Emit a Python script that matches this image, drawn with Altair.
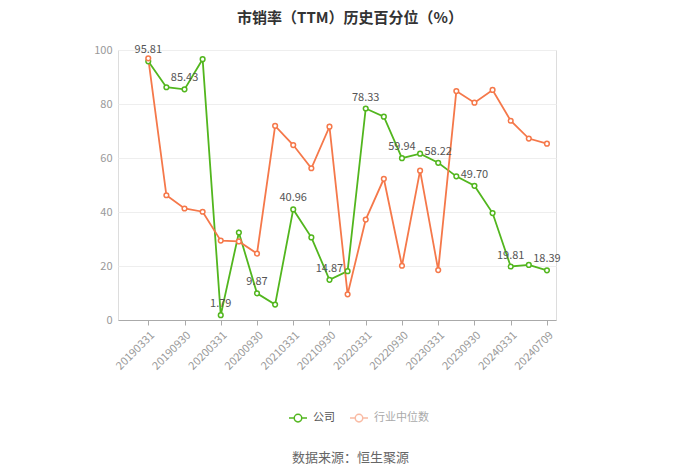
import altair as alt
import pandas as pd

dates = ["20190331", "20190630", "20190930", "20191231", "20200331", "20200630",
         "20200930", "20201231", "20210331", "20210630", "20210930", "20211231",
         "20220331", "20220630", "20220930", "20221231", "20230331", "20230630",
         "20230930", "20231231", "20240331", "20240630", "20240709"]
company = [95.81, 86.2, 85.43, 96.6, 1.79, 32.4, 9.87, 5.7, 40.96, 30.6, 14.87, 18.1,
           78.33, 75.3, 59.94, 61.6, 58.22, 53.2, 49.70, 39.6, 19.81, 20.4, 18.39]
industry = [96.9, 46.2, 41.3, 40.1, 29.4, 29.1, 24.6, 71.9, 64.8, 56.2, 71.6, 9.5,
            37.2, 52.3, 20.1, 55.3, 18.5, 84.8, 80.5, 85.2, 73.8, 67.2, 65.3]
labelled = [0, 2, 4, 6, 8, 10, 12, 14, 16, 18, 20, 22]
tick_positions = [0, 2, 4, 6, 8, 10, 12, 14, 16, 18, 20, 22]
y_ticks = [0, 20, 40, 60, 80, 100]
series_names = ["公司", "行业中位数"]
colors = ["#52b61e", "#f5784a"]

rows = []
for i, d in enumerate(dates):
    rows.append({"idx": i, "date": d, "series": series_names[0], "value": company[i],
                 "label": f"{company[i]:.2f}" if i in labelled else ""})
    rows.append({"idx": i, "date": d, "series": series_names[1], "value": industry[i],
                 "label": ""})
df = pd.DataFrame(rows)

FONT = "Noto Sans CJK SC"
label_array = "[" + ",".join(f"'{d}'" for d in dates) + "]"

color_scale = alt.Scale(domain=series_names, range=colors)
legend_symbol = ("M-1,0L-0.42,0M0.42,0L1,0"
                 "M-0.42,0A0.42,0.42 0 1,1 0.42,0A0.42,0.42 0 1,1 -0.42,0Z")

x_enc = alt.X("idx:Q",
              scale=alt.Scale(domain=[-1.67, 22.5], nice=False, zero=False),
              axis=alt.Axis(values=tick_positions, tickCount=len(tick_positions),
                            labelExpr=f"{label_array}[datum.value]",
                            labelAngle=-45, labelColor="#999999", labelFontSize=11,
                            labelFont=FONT, labelPadding=4, labelOverlap=False,
                            labelBound=False,
                            domainColor="#aaaaaa", tickColor="#aaaaaa", tickSize=5,
                            grid=False,
                            title="数据来源：恒生聚源", titleFont=FONT,
                            titleFontSize=13, titleFontWeight="normal",
                            titleColor="#666666", titleX=232, titleY=131,
                            titleAnchor="middle", titleAlign="center"))
y_enc = alt.Y("value:Q",
              scale=alt.Scale(domain=[0, 100], nice=False),
              axis=alt.Axis(values=y_ticks, title=None,
                            labelColor="#999999", labelFontSize=11, labelFont=FONT,
                            domain=False, ticks=False, labelPadding=6,
                            gridColor="#eeeeee"))

color_enc = alt.Color("series:N", scale=color_scale,
                      legend=alt.Legend(title=None, orient="none", direction="horizontal",
                                        legendX=170, legendY=358,
                                        symbolType=legend_symbol, symbolSize=324,
                                        symbolStrokeWidth=1.5, symbolFillColor="white",
                                        symbolOpacity={"expr": "datum.label == '行业中位数' ? 0.5 : 1"},
                                        labelFont=FONT, labelFontSize=11,
                                        labelColor={"expr": "datum.label == '行业中位数' ? '#aaaaaa' : '#555555'"},
                                        columnPadding=12,
                                        labelOffset=5))

base = alt.Chart(df)
lines = base.mark_line(strokeWidth=1.8).encode(x=x_enc, y=y_enc, color=color_enc,
                                               detail="series:N")
points = base.mark_point(filled=True, fill="white", size=22, strokeWidth=1.5,
                         opacity=1).encode(
    x=x_enc, y=y_enc,
    stroke=alt.Stroke("series:N", scale=color_scale, legend=None))
texts = base.transform_filter("datum.label != ''").mark_text(
    baseline="bottom", dy=-6, fontSize=11, font=FONT, color="#555555").encode(
    x=x_enc, y=y_enc, text="label:N")

chart = alt.layer(lines, points, texts).properties(
    width=438, height=270,
    autosize=alt.AutoSizeParams(type="none"),
    padding={"left": 118, "top": 50, "right": 144, "bottom": 153},
    title=alt.TitleParams("市销率（TTM）历史百分位（%）", font=FONT, fontSize=15,
                          fontWeight="bold", color="#333333", anchor="middle",
                          dx=13, offset=18),
).configure_view(stroke=None).configure(background="white")

chart.save("out.html", embed_options={"renderer": "svg", "actions": False})
